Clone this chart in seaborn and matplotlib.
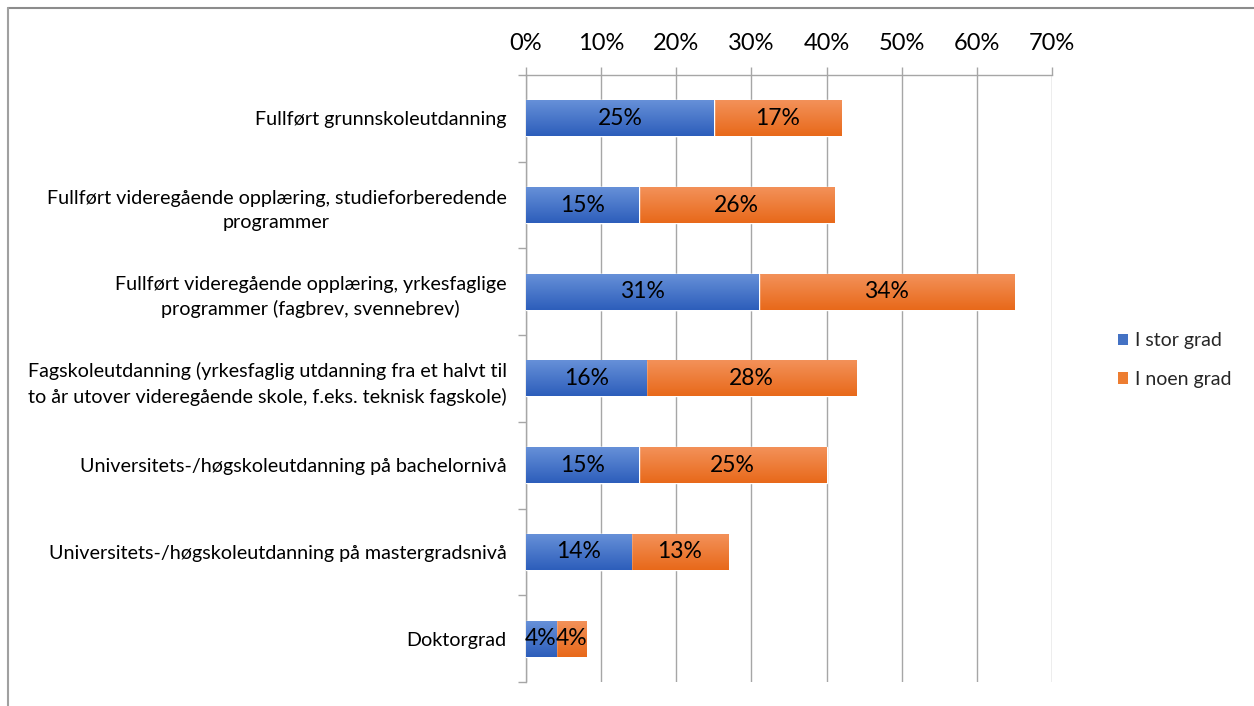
import numpy as np
import pandas as pd
import matplotlib
matplotlib.use("Agg")
import matplotlib.pyplot as plt
import seaborn as sns
from matplotlib.colors import LinearSegmentedColormap
from matplotlib.lines import Line2D
from matplotlib.patches import Patch

# --- data -------------------------------------------------------------
categories = [
    "Fullført grunnskoleutdanning",
    "Fullført videregående opplæring, studieforberedende\nprogrammer",
    "Fullført videregående opplæring, yrkesfaglige\nprogrammer (fagbrev, svennebrev)",
    "Fagskoleutdanning (yrkesfaglig utdanning fra et halvt til\nto år utover videregående skole, f.eks. teknisk fagskole)",
    "Universitets-/høgskoleutdanning på bachelornivå",
    "Universitets-/høgskoleutdanning på mastergradsnivå",
    "Doktorgrad",
]
stor_grad = [25, 15, 31, 16, 15, 14, 4]
noen_grad = [17, 26, 34, 28, 25, 13, 4]
series_names = ["I stor grad", "I noen grad"]
x_ticks = [0, 10, 20, 30, 40, 50, 60, 70]

# --- style ------------------------------------------------------------
sns.set_theme(style="white")
plt.rcParams["font.family"] = ["Lato", "DejaVu Sans"]

BLUE = "#4472C4"
ORANGE = "#ED7D31"
blue_grad = LinearSegmentedColormap.from_list("blue_grad", ["#6690D8", "#2D5EBB"])
orange_grad = LinearSegmentedColormap.from_list("orange_grad", ["#F39159", "#E8691A"])
GRID = "#A6A6A6"

W, H = 1254, 706
fig = plt.figure(figsize=(W / 100, H / 100), dpi=100)
ax = fig.add_axes([526 / W, 24 / H, 526 / W, 607 / H])

df = pd.DataFrame({"category": categories, "stor": stor_grad, "noen": noen_grad})
df["total"] = df["stor"] + df["noen"]

bar_w = 0.415
sns.barplot(data=df, y="category", x="total", color=ORANGE, saturation=1,
            width=bar_w, orient="h", ax=ax, zorder=2)
n_orange = len(ax.patches)
sns.barplot(data=df, y="category", x="stor", color=BLUE, saturation=1,
            width=bar_w, orient="h", ax=ax, zorder=4)

ax.set_xlim(0, 70)
ax.set_ylim(len(categories) - 0.5, -0.5)
xlim, ylim = ax.get_xlim(), ax.get_ylim()

# vertical gradient fill on each bar segment (light top, darker bottom)
grad = np.linspace(0, 1, 64).reshape(-1, 1)
for i, p in enumerate(ax.patches):
    cmap, z = (orange_grad, 2.5) if i < n_orange else (blue_grad, 4.5)
    x0, y0, w, h = p.get_x(), p.get_y(), p.get_width(), p.get_height()
    ytop, ybot = min(y0, y0 + h), max(y0, y0 + h)
    ax.imshow(grad, cmap=cmap, aspect="auto", origin="upper",
              extent=(x0, x0 + w, ybot, ytop), zorder=z, interpolation="bilinear")
ax.set_xlim(xlim)
ax.set_ylim(ylim)

# value labels centred on each segment
for i, (s, n) in enumerate(zip(stor_grad, noen_grad)):
    ax.text(s / 2, i, f"{s}%", ha="center", va="center", fontsize=16.5,
            color="black", zorder=6)
    ax.text(s + n / 2, i, f"{n}%", ha="center", va="center", fontsize=16.5,
            color="black", zorder=6)

# axes: percent scale on top, vertical grid
ax.xaxis.tick_top()
ax.set_xticks(x_ticks)
ax.set_xticklabels([f"{t}%" for t in x_ticks])
ax.tick_params(axis="x", which="major", length=6, width=1, color=GRID,
               labelsize=17, pad=9, labelcolor="black")
ax.xaxis.grid(True, color=GRID, lw=1)
ax.set_axisbelow(True)

ax.set_yticks(range(len(categories)))
ax.set_yticklabels(categories, multialignment="center", linespacing=1.5)
ax.set_yticks(np.arange(-0.5, len(categories), 1), minor=True)
ax.tick_params(axis="y", which="major", length=0, labelsize=14.2, pad=14,
               labelcolor="black")
ax.tick_params(axis="y", which="minor", length=6, width=1, color=GRID, left=True)
ax.set_xlabel("")
ax.set_ylabel("")

for side in ("bottom", "right"):
    ax.spines[side].set_visible(False)
for side in ("top", "left"):
    ax.spines[side].set_color(GRID)
    ax.spines[side].set_linewidth(1)

# legend
handles = [Patch(facecolor=BLUE, edgecolor="none"), Patch(facecolor=ORANGE, edgecolor="none")]
fig.legend(handles, series_names, loc="center left",
           bbox_to_anchor=(1100 / W, 1 - 360 / H), frameon=False,
           fontsize=14, handlelength=0.55, handleheight=0.55,
           handletextpad=0.35, labelspacing=1.1)

# outer chart frame
fig.add_artist(Line2D([8 / W, 1], [1 - 8 / H, 1 - 8 / H], transform=fig.transFigure,
                      color="#8C8C8C", lw=1.5))
fig.add_artist(Line2D([8 / W, 8 / W], [0, 1 - 8 / H], transform=fig.transFigure,
                      color="#A0A0A0", lw=1.5))

fig.savefig("out.png", dpi=100, facecolor="white")
